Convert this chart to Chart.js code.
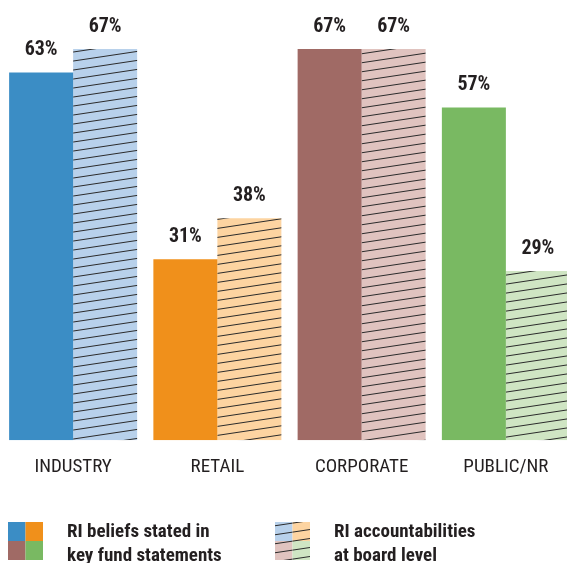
<!DOCTYPE html>
<html>
<head>
<meta charset="utf-8">
<script src="https://cdn.jsdelivr.net/npm/chart.js@4"></script>
<style>
  html, body { margin: 0; padding: 0; background: #fff; overflow: hidden; }
  #wrap { width: 567px; height: 563px; overflow: hidden; }
</style>
</head>
<body>
<div id="wrap"><canvas id="barChart" width="578" height="563"></canvas></div>
<script>
const categories = ['INDUSTRY', 'RETAIL', 'CORPORATE', 'PUBLIC/NR'];
const beliefsValues = [63, 31, 67, 57];
const boardValues = [67, 38, 67, 29];
const solidColors = ['#3b8dc5', '#f0901b', '#a06a65', '#79b962'];
const lightColors = ['#b8d1eb', '#fdd4a1', '#e0c3bf', '#cfe5c3'];
const beliefsLabel = ['RI beliefs stated in', 'key fund statements'];
const boardLabel = ['RI accountabilities', 'at board level'];

const FONT = "'Liberation Sans Narrow', 'Roboto Condensed', 'Arial Narrow', 'Liberation Sans', sans-serif";
const TEXT = '#231f20';

const canvas = document.getElementById('barChart');
const ctx = canvas.getContext('2d');

// diagonal hatch tile: shallow lines rising to the right
function makeHatch(fill) {
  const tile = document.createElement('canvas');
  tile.width = 60;
  tile.height = 9;
  const t = tile.getContext('2d');
  t.fillStyle = fill;
  t.fillRect(0, 0, 60, 9);
  t.strokeStyle = '#2b2b2b';
  t.lineWidth = 1;
  for (let y = 0; y <= 18; y += 9) {
    t.beginPath();
    t.moveTo(0, y);
    t.lineTo(60, y - 9);
    t.stroke();
  }
  return ctx.createPattern(tile, 'repeat');
}

const hatchFills = lightColors.map(makeHatch);

const valueLabels = {
  id: 'valueLabels',
  afterDatasetsDraw(chart) {
    const c = chart.ctx;
    c.save();
    c.font = 'bold 20px ' + FONT;
    c.fillStyle = TEXT;
    c.textAlign = 'center';
    c.textBaseline = 'middle';
    chart.data.datasets.forEach((ds, i) => {
      chart.getDatasetMeta(i).data.forEach((bar, j) => {
        c.fillText(ds.data[j] + '%', bar.x, bar.y - 22);
      });
    });
    c.restore();
  }
};

const bottomLegend = {
  id: 'bottomLegend',
  afterDraw(chart) {
    const c = chart.ctx;
    const drawKey = (x, fills, lines) => {
      const y = 522, w = 17.5, h = 19;
      fills.forEach((f, k) => {
        c.fillStyle = f;
        c.fillRect(x + (k % 2) * w, y + Math.floor(k / 2) * h, w, h);
      });
      c.fillStyle = TEXT;
      c.font = 'bold 19px ' + FONT;
      c.textAlign = 'left';
      c.textBaseline = 'alphabetic';
      c.fillText(lines[0], x + 59, 537);
      c.fillText(lines[1], x + 59, 561);
    };
    c.save();
    drawKey(8, solidColors, beliefsLabel);
    drawKey(275, hatchFills, boardLabel);
    c.restore();
  }
};

new Chart(ctx, {
  type: 'bar',
  data: {
    labels: categories,
    datasets: [
      {
        label: beliefsLabel.join(' '),
        data: beliefsValues,
        backgroundColor: solidColors,
        borderWidth: 0
      },
      {
        label: boardLabel.join(' '),
        data: boardValues,
        backgroundColor: hatchFills,
        borderWidth: 0
      }
    ]
  },
  options: {
    responsive: false,
    animation: false,
    devicePixelRatio: 1,
    layout: { padding: { left: 1, right: 0, top: 0, bottom: 76 } },
    datasets: {
      bar: { barPercentage: 1, categoryPercentage: 0.8874 }
    },
    plugins: {
      legend: { display: false },
      tooltip: { enabled: false }
    },
    scales: {
      x: {
        grid: { display: false },
        border: { display: false },
        ticks: {
          color: TEXT,
          padding: 8,
          font: { family: FONT, size: 19 }
        }
      },
      y: {
        display: false,
        min: 0,
        max: 75.4
      }
    }
  },
  plugins: [valueLabels, bottomLegend]
});
</script>
</body>
</html>
